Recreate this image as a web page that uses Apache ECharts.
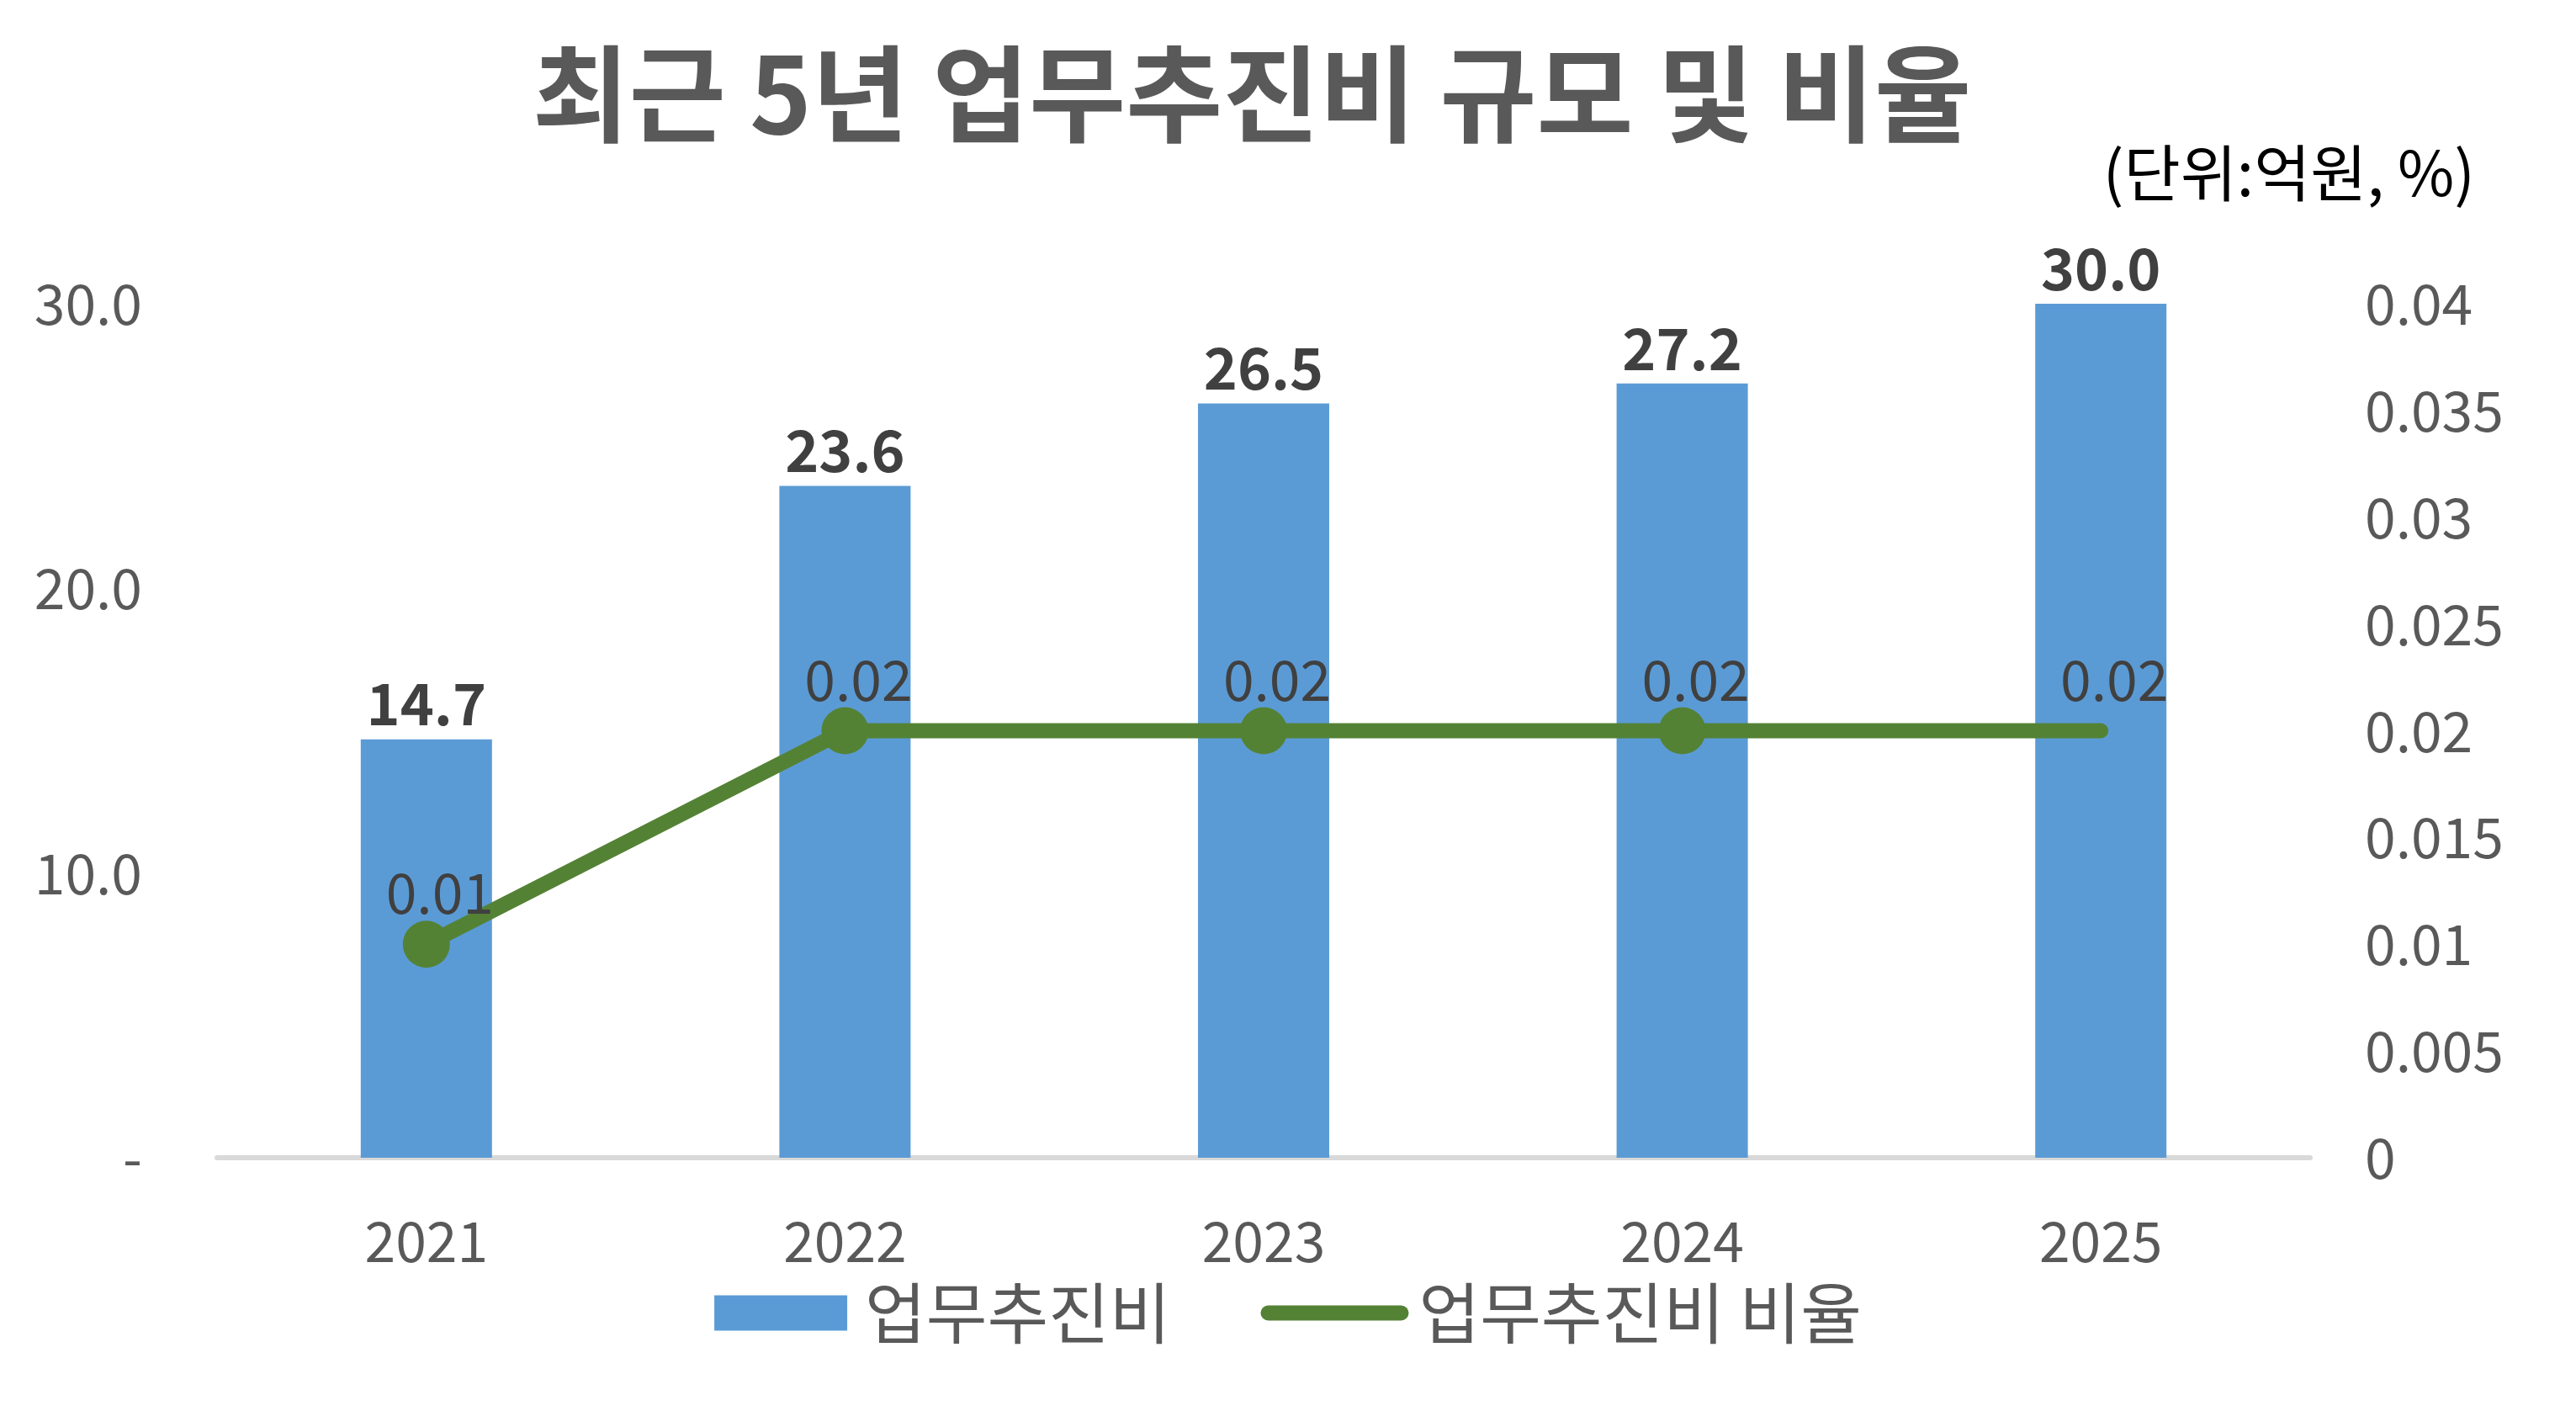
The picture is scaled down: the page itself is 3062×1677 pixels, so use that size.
<!DOCTYPE html>
<html>
<head>
<meta charset="utf-8">
<script src="https://cdn.jsdelivr.net/npm/echarts@6/dist/echarts.min.js"></script>
<style>
  html, body { margin: 0; padding: 0; background: #fff; }
  #chart { width: 3062px; height: 1677px; }
</style>
</head>
<body>
<div id="chart"></div>
<script>
// data
const years = ['2021', '2022', '2023', '2024', '2025']
const expense = [14.7, 23.6, 26.5, 27.2, 30.0]          // 업무추진비 (억원)
const ratio = [0.01, 0.02, 0.02, 0.02, 0.02]            // 업무추진비 비율 (%)
const ratioMarker = [true, true, true, true, false]     // last point has no marker in the source

const FONT = '"Noto Sans CJK KR", "Noto Sans", sans-serif'
const GREY = '#595959'
const GREEN = '#548235'

const chart = echarts.init(document.getElementById('chart'))

chart.setOption({
  backgroundColor: '#fff',
  textStyle: { fontFamily: FONT },
  title: [
    {
      text: '최근 5년 업무추진비 규모 및 비율',
      left: 1483, top: 44, textAlign: 'center',
      textStyle: { fontFamily: FONT, fontSize: 125, fontWeight: 'bold', color: GREY },
    },
    {
      text: '(단위:억원, %)',
      right: 115, top: 164,
      textStyle: { fontFamily: FONT, fontSize: 73, fontWeight: 'normal', color: '#000' },
    },
  ],
  legend: {
    left: 'center', top: 1516,
    itemWidth: 158, itemHeight: 42, itemGap: 107,
    textStyle: { fontFamily: FONT, fontSize: 79, color: GREY, padding: [0, 0, 0, 16] },
    data: [
      { name: '업무추진비', icon: 'rect' },
      { name: '업무추진비 비율', itemStyle: { opacity: 0 }, lineStyle: { width: 18, cap: 'round', color: GREEN } },
    ],
  },
  grid: { left: 258, right: 316, top: 361, bottom: 301, containLabel: false },
  xAxis: {
    type: 'category', data: years,
    axisLine: { lineStyle: { color: '#D9D9D9', width: 6 } },
    axisTick: { show: false },
    axisLabel: { fontFamily: FONT, fontSize: 66, color: GREY, margin: 66 },
  },
  yAxis: [
    {
      type: 'value', min: 0, max: 30, interval: 10,
      axisLine: { show: false }, axisTick: { show: false }, splitLine: { show: false },
      axisLabel: {
        fontFamily: FONT, fontSize: 66, color: GREY, margin: 89,
        formatter: v => v === 0 ? '-' : v.toFixed(1),
      },
    },
    {
      type: 'value', min: 0, max: 0.04, interval: 0.005,
      axisLine: { show: false }, axisTick: { show: false }, splitLine: { show: false },
      axisLabel: { fontFamily: FONT, fontSize: 66, color: GREY, margin: 65 },
    },
  ],
  series: [
    {
      name: '업무추진비', type: 'bar', data: expense,
      barWidth: 156,
      itemStyle: { color: '#5B9BD5' },
      label: {
        show: true, position: 'top', distance: 8,
        fontFamily: FONT, fontSize: 68, fontWeight: 'bold', color: '#404040',
        formatter: p => p.value.toFixed(1),
      },
      z: 2,
    },
    {
      name: '업무추진비 비율', type: 'line', yAxisIndex: 1,
      data: ratio.map((v, i) => ratioMarker[i]
        ? v
        : { value: v, itemStyle: { color: 'rgba(0,0,0,0)' } }),
      symbol: 'circle', symbolSize: 56,
      lineStyle: { color: GREEN, width: 18, cap: 'round' },
      itemStyle: { color: GREEN },
      label: {
        show: true, position: 'top', distance: 0, offset: [16, 0],
        fontFamily: FONT, fontSize: 66, color: '#404040',
        formatter: p => p.value.toFixed(2),
      },
      z: 3,
    },
  ],
})
</script>
</body>
</html>
